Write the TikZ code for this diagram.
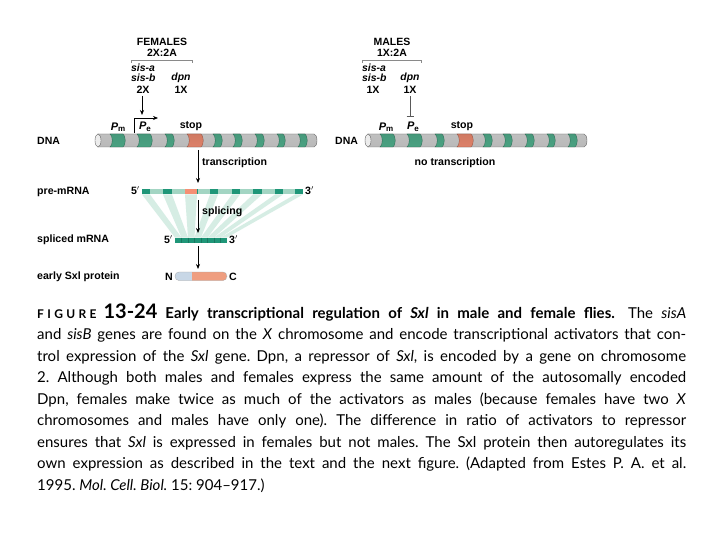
\documentclass[tikz,border=0pt]{standalone}
\usepackage{fontspec}
\setmainfont{Liberation Sans}
\newfontfamily\labfont{Liberation Sans}
\newfontfamily\capfont[Ligatures=TeX]{Lato}
\newfontfamily\figletfont[LetterSpace=28]{Lato}
\usetikzlibrary{arrows.meta}
\definecolor{dnagreen}{HTML}{52B390}
\definecolor{dnaorange}{HTML}{F58F74}
\definecolor{mrnadark}{HTML}{1F9678}
\definecolor{mrnalight}{HTML}{A3D5C3}
\definecolor{fancol}{HTML}{CFEAE0}
\definecolor{protblue}{HTML}{C8D7E6}
\definecolor{protorange}{HTML}{EF9E80}
\definecolor{bracketgray}{HTML}{8A8A8A}
\newcommand\dnaband[3]{%
  \path[top color=#3!85!black, middle color=#3!65!white, bottom color=#3!90!black,
        draw=#3!55!black, line width=0.3pt]
  (#1,134) -- (#2,134) .. controls ({#2+3},135.5) and ({#2+3},145.5) .. (#2,147)
  -- (#1,147) .. controls ({#1+3},145.5) and ({#1+3},135.5) .. (#1,134) -- cycle;}
\newcommand\dnacyl[2]{%
  \path[top color=gray!50, middle color=gray!8, bottom color=gray!55, draw=gray!80!black, line width=0.4pt]
  ({#1+3},134) -- ({#2-3},134) arc[start angle=-90, end angle=90, x radius=3, y radius=6.5]
  -- ({#1+3},147) -- cycle;
  \path[fill=gray!15, draw=gray!80!black, line width=0.4pt] ({#1+3},140.5) ellipse[x radius=3, y radius=6.5];}
\newcommand\capline[1]{\hbox to 649pt{\frenchspacing\spaceskip=0.27em plus 2em minus 0.12em\relax #1}}
\newcommand\Pm{{\itshape P}\raisebox{-1.5pt}{\fontsize{8}{8}\selectfont\upshape m}}
\newcommand\Pe{{\itshape P}\raisebox{-1.5pt}{\fontsize{8}{8}\selectfont\upshape e}}
\begin{document}
\begin{tikzpicture}[x=1pt,y=-1pt,
  lab/.style={font=\labfont\bfseries\fontsize{10.6}{12}\selectfont, inner sep=0pt},
  head/.style={font=\labfont\bfseries\fontsize{10.5}{12}\selectfont, inner sep=0pt},
  gene/.style={font=\labfont\bfseries\itshape\fontsize{10.4}{12}\selectfont, inner sep=0pt},
  arr/.style={-{Stealth[length=5pt,width=4pt]}, line width=0.7pt},
  rep/.style={line width=0.7pt, gray!70!black},
  brk/.style={bracketgray, line width=0.5pt},
  capt/.style={font=\capfont\fontsize{15}{17}\selectfont, inner sep=0pt, anchor=base west}]
\useasboundingbox (0,0) rectangle (720,540);
\fill[white] (0,0) rectangle (720,540);

% ---------- FEMALES ----------
\node[head] (fem) at (162,42) {FEMALES};
\node[head] (femr) at (162,52.5) {2X:2A};
\draw[brk] (131,63) -- (131,60) -- (192,60) -- (192,63);
\node[gene, anchor=west] (fsa) at (131,67.5) {sis-a};
\node[gene, anchor=west] (fsb) at (131,77.5) {sis-b};
\node[gene] (fdpn) at (181,77.5) {dpn};
\node[lab] (f2x) at (143,89.5) {2X};
\node[lab] (f1x) at (181,89.5) {1X};
\coordinate (fa0) at (142,96);
\coordinate (fpeup) at (142,115);
\draw[arr] (fa0) -- (fpeup);

\dnacyl{95}{317}
\dnaband{110}{123}{dnagreen}
\dnaband{137}{150}{dnagreen}
\dnaband{165}{172}{dnagreen}
\dnaband{187}{201}{dnaorange}
\dnaband{213}{220}{dnagreen}
\dnaband{233}{240}{dnagreen}
\dnaband{255}{262}{dnagreen}
\dnaband{277}{283}{dnagreen}
\dnaband{298}{305}{dnagreen}

\node[lab, font=\labfont\bfseries\fontsize{11}{12}\selectfont] (fpm) at (118,127) {\Pm};
\node[lab, font=\labfont\bfseries\fontsize{11}{12}\selectfont] (fpe) at (145,127) {\Pe};
\coordinate (fbend0) at (134,133.5);
\coordinate (fbend1) at (134,118);
\coordinate (fbend2) at (158,118);
\draw[line width=0.7pt, -{Stealth[length=5pt,width=4pt]}] (fbend0) -- (fbend1) -- (fbend2);
\node[lab] (fstop) at (191,126) {stop};
\node[head, anchor=west] (fdna) at (37,141) {DNA};

% transcription
\coordinate (ft0) at (198,150);
\node[lab, anchor=west] (ftr) at (202,163) {transcription};
\node[lab, anchor=west] (pre) at (37,192) {pre-mRNA};

% fan wedges
\foreach \a/\b/\c/\d in {142/150/175/181.5, 163/172/181.5/188, 185/197/188/194.5, 210/218/194.5/201,
                         232/240/201/207.5, 253/262/207.5/214, 275/283/214/220.5, 295/303/220.5/227}{
  \fill[fancol, opacity=0.85] (\a,194.5) -- (\b,194.5) -- (\d,237.5) -- (\c,237.5) -- cycle;
}

% pre-mRNA bar
\fill[mrnalight] (142,189.5) rectangle (303,194.5);
\foreach \a/\b in {142/150, 163/172, 210/218, 232/240, 253/262, 275/283, 295/303}{
  \fill[mrnadark] (\a,189.5) rectangle (\b,194.5);
}
\fill[dnaorange] (185,189.5) rectangle (197,194.5);
\fill[mrnadark] (197,189.5) rectangle (198,194.5);
\node[lab, anchor=east] (pre5) at (140,190.5) {5$'$};
\node[lab, anchor=west] (pre3) at (305,190.5) {3$'$};
\coordinate (ft1) at (198,183);
\draw[arr] (ft0) -- (ft1);

% splicing
\coordinate (fs0) at (198,200);
\coordinate (fs1) at (198,233);
\draw[arr] (fs0) -- (fs1);
\node[lab, anchor=west] (fspl) at (202,212) {splicing};

% spliced mRNA
\node[lab, anchor=west] (spl) at (37,240) {spliced mRNA};
\fill[mrnadark] (175,237.5) rectangle (227,243);
\foreach \x in {181.5,188,194.5,201,207.5,214,220.5}{
  \draw[mrnadark!80!black, line width=0.2pt] (\x,237.5) -- (\x,243);
}
\node[lab, anchor=east] (spl5) at (173,239.5) {5$'$};
\node[lab, anchor=west] (spl3) at (229,239.5) {3$'$};

% protein
\coordinate (fp0) at (198,246);
\coordinate (fp1) at (198,269);
\draw[arr] (fp0) -- (fp1);
\node[lab, anchor=west] (prot) at (37,276.5) {early Sxl protein};
\begin{scope}
  \clip[rounded corners=4pt] (175,272) rectangle (227,280.5);
  \fill[protblue] (175,272) rectangle (192,280.5);
  \fill[protorange] (192,272) rectangle (227,280.5);
\end{scope}
\draw[gray!70, line width=0.3pt, rounded corners=4pt] (175,272) rectangle (227,280.5);
\node[lab, anchor=east] (protN) at (173,276.5) {N};
\node[lab, anchor=west] (protC) at (229,276.5) {C};

% ---------- MALES ----------
\node[head] (mal) at (392,42) {MALES};
\node[head] (malr) at (392,52.5) {1X:2A};
\draw[brk] (362,63) -- (362,60) -- (421,60) -- (421,63);
\node[gene, anchor=west] (msa) at (362,67.5) {sis-a};
\node[gene, anchor=west] (msb) at (362,77.5) {sis-b};
\node[gene] (mdpn) at (410,77.5) {dpn};
\node[lab] (m1xa) at (373,89.5) {1X};
\node[lab] (m1xb) at (410,89.5) {1X};
\coordinate (mr0) at (410,96.5);
\coordinate (mr1) at (410,117);
\draw[rep] (mr0) -- (mr1);
\coordinate (mrl) at (406.5,117);
\coordinate (mrr) at (413.5,117);
\draw[rep, line width=1pt] (mrl) -- (mrr);

\dnacyl{365}{587}
\dnaband{380}{393}{dnagreen}
\dnaband{407}{420}{dnagreen}
\dnaband{435}{442}{dnagreen}
\dnaband{457}{471}{dnaorange}
\dnaband{483}{490}{dnagreen}
\dnaband{503}{510}{dnagreen}
\dnaband{525}{532}{dnagreen}
\dnaband{547}{553}{dnagreen}
\dnaband{568}{575}{dnagreen}

\node[lab, font=\labfont\bfseries\fontsize{11}{12}\selectfont] (mpm) at (386,127) {\Pm};
\node[lab, font=\labfont\bfseries\fontsize{11}{12}\selectfont] (mpe) at (413,127) {\Pe};
\node[lab] (mstop) at (462,126) {stop};
\node[head, anchor=west] (mdna) at (335,141) {DNA};
\node[lab] (mnot) at (455,163) {no transcription};

% ---------- CAPTION ----------
\node[capt] (c1) at (37,318) {\capline{{\figletfont\bfseries\fontsize{12}{12}\selectfont FIGURE}\hspace{7pt}{\bfseries\fontsize{20}{20}\selectfont 13-24}\hspace{8pt}{\bfseries Early transcriptional regulation of \textit{Sxl} in male and female flies.}\hspace{5pt} The \textit{sisA}}};
\node[capt] (c2) at (37,339.5) {\capline{and \textit{sisB} genes are found on the \textit{X} chromosome and encode transcriptional activators that con-}};
\node[capt] (c3) at (37,361) {\capline{trol expression of the \textit{Sxl} gene. Dpn, a repressor of \textit{Sxl}, is encoded by a gene on chromosome}};
\node[capt] (c4) at (37,382.5) {\capline{2. Although both males and females express the same amount of the autosomally encoded}};
\node[capt] (c5) at (37,404) {\capline{Dpn, females make twice as much of the activators as males (because females have two \textit{X}}};
\node[capt] (c6) at (37,425.5) {\capline{chromosomes and males have only one). The difference in ratio of activators to repressor}};
\node[capt] (c7) at (37,447) {\capline{ensures that \textit{Sxl} is expressed in females but not males. The Sxl protein then autoregulates its}};
\node[capt] (c8) at (37,468.5) {\capline{own expression as described in the text and the next figure. (Adapted from Estes P. A. et al.}};
\node[capt] (c9) at (37,490) {\frenchspacing 1995. \textit{Mol. Cell. Biol.} 15: 904–917.)};
\end{tikzpicture}
\end{document}
